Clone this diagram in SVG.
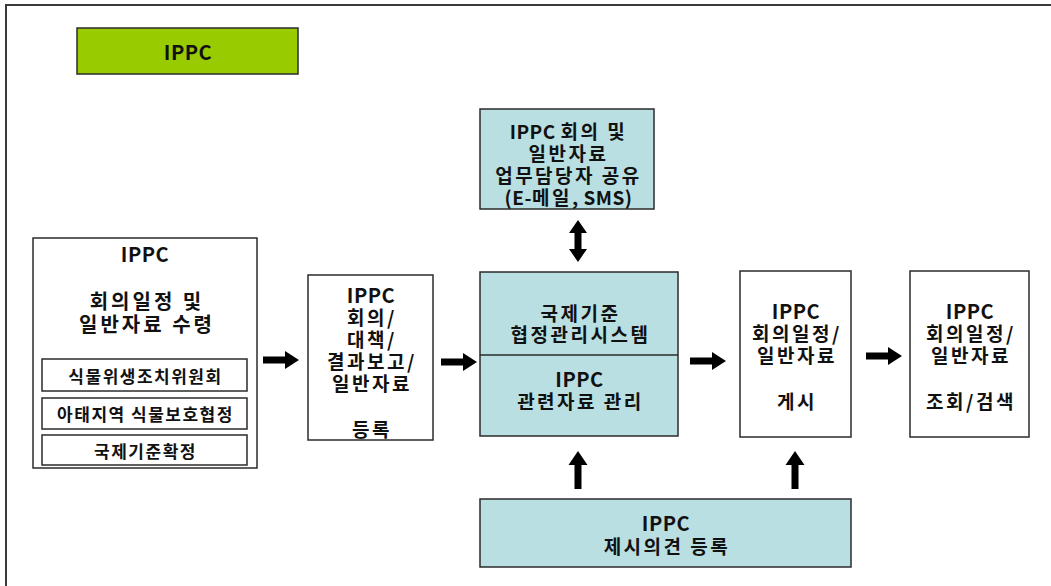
<svg xmlns="http://www.w3.org/2000/svg" width="1051" height="586" viewBox="0 0 1051 586">
  <style>
    .box { stroke: #2b2b2b; stroke-width: 1.5; }
    .plain { fill: #ffffff; }
    .teal { fill: #b9dfe2; }
    .lime { fill: #99cc00; }
    .frame { stroke: #3a3a3a; stroke-width: 2; fill: none; }
    text { font-family: "Noto Sans CJK KR", "Liberation Sans", sans-serif; font-size: 19px; font-weight: bold; fill: #111; text-anchor: middle; dominant-baseline: central; letter-spacing: 2.5px; }
    .lg { font-size: 20px; letter-spacing: 3px; }
    .sm { font-size: 17px; letter-spacing: 1.5px; }
    .lat { font-size: 20px; letter-spacing: 0.5px; }
    tspan.lat { font-size: 19px; }
    .arrow { fill: #000; }
  </style>
  <defs>
    <!-- block arrow pointing right, tail at origin -->
    <path id="arrowR" d="M0,-3.5 H22 V-9 L36,0 L22,9 V3.5 H0 Z"/>
    <!-- block arrow pointing up, tail at origin -->
    <path id="arrowU" d="M-3.5,0 V-24 H-9.5 L0,-38 L9.5,-24 H3.5 V0 Z"/>
    <!-- two-headed vertical arrow, centred on origin -->
    <path id="arrowUD" d="M0,-21 L9,-8 H3.5 V8 H9 L0,21 L-9,8 H-3.5 V-8 H-9 Z"/>
  </defs>

  <rect width="1051" height="586" fill="#ffffff"/>
  <path class="frame" d="M6,586 V5 H1051"/>

  <g id="title">
    <rect class="box lime" x="77" y="28" width="221" height="46"/>
    <text class="lat" x="188" y="51">IPPC</text>
  </g>

  <g id="receive">
    <rect class="box plain" x="33" y="238" width="224" height="230"/>
    <text class="lat" x="145" y="253">IPPC</text>
    <text class="lg" x="147" y="300">회의일정 및</text>
    <text class="lg" x="147" y="323">일반자료 수령</text>
    <rect class="box plain" x="42" y="359" width="205" height="32"/>
    <text class="sm" x="145.5" y="375">식물위생조치위원회</text>
    <rect class="box plain" x="42" y="398" width="205" height="31"/>
    <text class="sm" x="145.5" y="413.5">아태지역 식물보호협정</text>
    <rect class="box plain" x="42" y="435" width="205" height="30"/>
    <text class="sm" x="145.5" y="450">국제기준확정</text>
  </g>

  <g id="register">
    <rect class="box plain" x="308" y="275" width="125" height="165"/>
    <text class="lat" x="371" y="294">IPPC</text>
    <text x="372" y="316">회의/</text>
    <text x="372" y="338">대책/</text>
    <text x="372" y="360">결과보고/</text>
    <text x="372" y="382">일반자료</text>
    <text x="372" y="428">등록</text>
  </g>

  <g id="share">
    <rect class="box teal" x="480" y="109" width="174" height="100"/>
    <text x="568.5" y="130"><tspan class="lat">IPPC </tspan>회의 및</text>
    <text x="568.5" y="152">일반자료</text>
    <text x="568.5" y="174">업무담당자 공유</text>
    <text x="568.5" y="196"><tspan class="lat">(E-</tspan>메일<tspan class="lat">, SMS)</tspan></text>
  </g>

  <g id="system">
    <rect class="box teal" x="480" y="272" width="198" height="164"/>
    <line class="box" x1="480" y1="355" x2="678" y2="355"/>
    <text x="580.5" y="312">국제기준</text>
    <text x="580.5" y="333">협정관리시스템</text>
    <text class="lat" x="579.5" y="378">IPPC</text>
    <text x="580.5" y="400">관련자료 관리</text>
  </g>

  <g id="post">
    <rect class="box plain" x="740" y="271" width="111" height="166"/>
    <text class="lat" x="796" y="310">IPPC</text>
    <text x="797" y="332">회의일정/</text>
    <text x="797" y="354">일반자료</text>
    <text x="797" y="400">게시</text>
  </g>

  <g id="search">
    <rect class="box plain" x="910" y="271" width="119" height="166"/>
    <text class="lat" x="970" y="310">IPPC</text>
    <text x="971" y="332">회의일정/</text>
    <text x="971" y="354">일반자료</text>
    <text x="971" y="400">조회/검색</text>
  </g>

  <g id="opinion">
    <rect class="box teal" x="480" y="499" width="371" height="68"/>
    <text class="lat" x="666" y="522">IPPC</text>
    <text x="667" y="545">제시의견 등록</text>
  </g>

  <g id="connectors" class="arrow">
    <use href="#arrowR" x="263" y="360"/>
    <use href="#arrowR" x="441" y="362"/>
    <use href="#arrowR" x="690" y="361"/>
    <use href="#arrowR" x="866" y="356"/>
    <use href="#arrowUD" x="578" y="241"/>
    <use href="#arrowU" x="578" y="489"/>
    <use href="#arrowU" x="795" y="489"/>
  </g>
</svg>
